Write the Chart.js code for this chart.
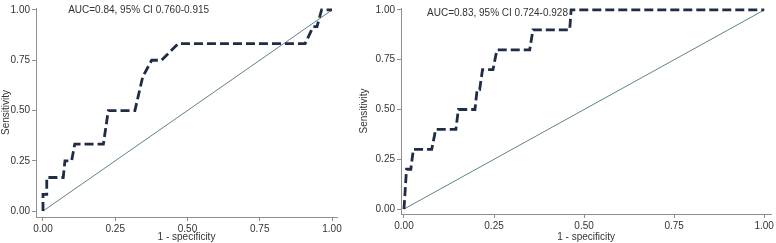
<!DOCTYPE html>
<html>
<head>
<meta charset="utf-8">
<script src="https://cdn.jsdelivr.net/npm/chart.js@4/dist/chart.umd.min.js"></script>
<style>
    html, body { margin: 0; padding: 0; background: #fff; }
    #wrap { position: relative; width: 776px; height: 243px; overflow: hidden; }
    canvas { position: absolute; top: 0; }
    #rocLeft { left: 0; }
    #rocRight { left: 355px; }
</style>
</head>
<body>
<div id="wrap">
    <canvas id="rocLeft" width="345" height="243"></canvas>
    <canvas id="rocRight" width="421" height="243"></canvas>
</div>
<script>
    "use strict";

    // Tick labels shared by both panels
    const tickValues = [0, 0.25, 0.5, 0.75, 1];
    const tickLabels = ["0.00", "0.25", "0.50", "0.75", "1.00"];

    // Left panel ROC (1 - specificity, sensitivity)
    const leftFpr = [0, 0, 0.013, 0.013, 0.07, 0.076, 0.099, 0.11, 0.209, 0.226, 0.318, 0.345, 0.376, 0.41, 0.468, 0.907, 0.935, 0.948, 0.964, 1.0];
    const leftTpr = [0, 0.083, 0.083, 0.167, 0.167, 0.25, 0.25, 0.333, 0.333, 0.5, 0.5, 0.667, 0.75, 0.75, 0.833, 0.833, 0.917, 0.917, 1.0, 1.0];
    const leftLabel = "AUC=0.84, 95% CI 0.760-0.915";

    // Right panel ROC
    const rightFpr = [0, 0.007, 0.019, 0.026, 0.077, 0.088, 0.144, 0.151, 0.197, 0.203, 0.21, 0.218, 0.247, 0.258, 0.349, 0.358, 0.46, 0.464, 1.0];
    const rightTpr = [0, 0.2, 0.2, 0.3, 0.3, 0.4, 0.4, 0.5, 0.5, 0.6, 0.6, 0.7, 0.7, 0.8, 0.8, 0.9, 0.9, 1.0, 1.0];
    const rightLabel = "AUC=0.83, 95% CI 0.724-0.928";

    // Reference line
    const diagX = [0, 1];
    const diagY = [0, 1];

    const fontFamily = "'Liberation Sans', Arial, sans-serif";
    const axisColor = "#8f8f8f";
    const textColor = "#333333";

    function toPoints(xs, ys) {
        return xs.map((x, i) => ({ x: x, y: ys[i] }));
    }

    // Writes the AUC text inside the plot area
    const aucText = {
        id: "aucText",
        afterDatasetsDraw(chart, args, opts) {
            const ctx = chart.ctx;
            ctx.save();
            ctx.font = "10px " + fontFamily;
            ctx.fillStyle = textColor;
            ctx.textAlign = "left";
            ctx.textBaseline = "middle";
            ctx.fillText(opts.text,
                chart.scales.x.getPixelForValue(opts.x),
                chart.scales.y.getPixelForValue(opts.y));
            ctx.restore();
        },
    };

    function axis(opts) {
        return {
            type: "linear",
            min: opts.min,
            max: opts.max,
            afterBuildTicks: (scale) => {
                scale.ticks = tickValues.map((v) => ({ value: v }));
            },
            afterFit: opts.fit,
            border: { display: true, color: axisColor, width: 1 },
            grid: {
                drawOnChartArea: false,
                drawTicks: true,
                tickLength: 4,
                color: axisColor,
            },
            ticks: {
                autoSkip: false,
                maxRotation: 0,
                padding: 2,
                color: textColor,
                font: { family: fontFamily, size: 10 },
                callback: (value) => {
                    const i = tickValues.indexOf(value);
                    return i >= 0 ? tickLabels[i] : "";
                },
            },
            title: {
                display: true,
                text: opts.title,
                color: textColor,
                font: { family: fontFamily, size: 10, lineHeight: 1.2 },
                padding: opts.titlePad,
            },
        };
    }

    function makeRoc(el, cfg) {
        return new Chart(el.getContext("2d"), {
            type: "line",
            data: {
                datasets: [
                    {
                        data: toPoints(cfg.fpr, cfg.tpr),
                        borderColor: "#1f2c46",
                        borderWidth: 2.8,
                        borderDash: [9, 4],
                        pointRadius: 0,
                        tension: 0,
                        fill: false,
                    },
                    {
                        data: toPoints(diagX, diagY),
                        borderColor: "#5f818a",
                        borderWidth: 1,
                        pointRadius: 0,
                        tension: 0,
                        fill: false,
                    },
                ],
            },
            options: {
                responsive: false,
                animation: false,
                events: [],
                layout: { padding: cfg.padding },
                plugins: {
                    legend: { display: false },
                    tooltip: { enabled: false },
                    aucText: cfg.note,
                },
                scales: {
                    x: axis({
                        min: cfg.xRange[0],
                        max: cfg.xRange[1],
                        title: "1 - specificity",
                        titlePad: { top: 0, bottom: 0 },
                        fit: (s) => { s.height = cfg.xAxisHeight; },
                    }),
                    y: axis({
                        min: cfg.yRange[0],
                        max: cfg.yRange[1],
                        title: "Sensitivity",
                        titlePad: { top: cfg.yTitlePad, bottom: 0 },
                        fit: (s) => { s.width = cfg.yAxisWidth; },
                    }),
                },
            },
            plugins: [aucText],
        });
    }

    makeRoc(document.getElementById("rocLeft"), {
        fpr: leftFpr,
        tpr: leftTpr,
        note: { text: leftLabel, x: 0.087, y: 1.0 },
        xRange: [-0.0242, 1.0173],
        yRange: [-0.0294, 1.0098],
        xAxisHeight: 26,
        yAxisWidth: 36,
        yTitlePad: 0,
        padding: { top: 5, right: 8, left: 0, bottom: 0 },
    });

    makeRoc(document.getElementById("rocRight"), {
        fpr: rightFpr,
        tpr: rightTpr,
        note: { text: rightLabel, x: 0.064, y: 0.985 },
        xRange: [-0.0083, 1.0194],
        yRange: [-0.0248, 1.0099],
        xAxisHeight: 29,
        yAxisWidth: 46,
        yTitlePad: 3,
        padding: { top: 5, right: 4, left: 0, bottom: 0 },
    });
</script>
</body>
</html>
